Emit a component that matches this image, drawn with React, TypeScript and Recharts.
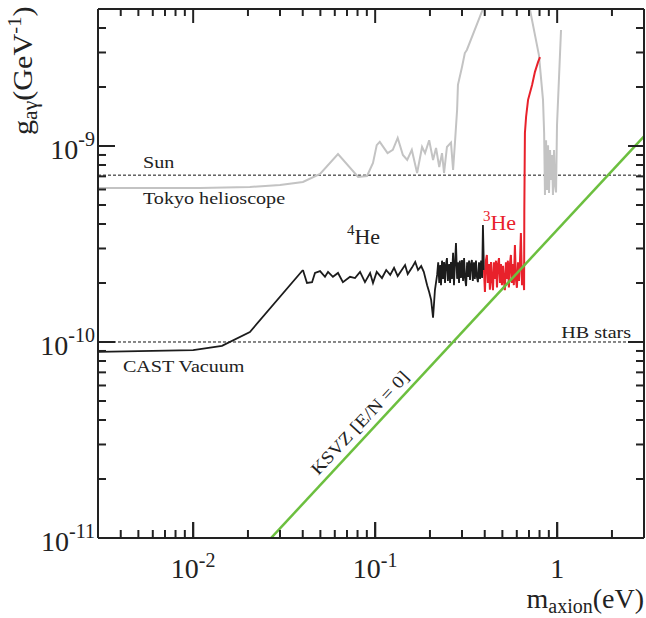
import React from 'react';
import { ComposedChart, Line, Scatter, XAxis, YAxis, ReferenceLine, ReferenceDot } from 'recharts';

const AXIS_COLOR = '#222222';
const FONT = '"Liberation Serif", "Times New Roman", Times, serif';

// ---- data (m_axion in eV, g_agamma in GeV^-1) ----
const castVacuumMass = [0.003, 0.01, 0.0144, 0.0205, 0.0401];
const castVacuumG = [8.9e-11, 9.1e-11, 9.55e-11, 1.125e-10, 2.33e-10];

const he4Mass = [0.0401, 0.0422, 0.045, 0.0467, 0.0498, 0.053, 0.0551, 0.0586, 0.0625, 0.0665, 0.0728, 0.0775, 0.0826, 0.0879, 0.0938, 0.0973, 0.102, 0.109, 0.115, 0.121, 0.127, 0.133, 0.14, 0.146, 0.151, 0.159, 0.166, 0.172, 0.179, 0.185, 0.193, 0.198, 0.203, 0.208, 0.213,
  0.219, 0.222, 0.225, 0.228, 0.23, 0.233, 0.236, 0.239, 0.242, 0.245, 0.248, 0.251, 0.255, 0.258, 0.261, 0.264, 0.268, 0.271, 0.275, 0.278, 0.282, 0.285, 0.289, 0.292, 0.296, 0.3, 0.304, 0.308, 0.312, 0.316, 0.32, 0.324, 0.328, 0.332, 0.336, 0.34, 0.344, 0.349, 0.353, 0.358, 0.362, 0.367, 0.372, 0.377, 0.382, 0.387, 0.391, 0.396];
const he4G = [2.33e-10, 2.0e-10, 2.02e-10, 2.25e-10, 2.3e-10, 2.15e-10, 2.28e-10, 2.15e-10, 2.25e-10, 2.02e-10, 2.15e-10, 2.12e-10, 2.28e-10, 2.02e-10, 2.25e-10, 2.0e-10, 2.28e-10, 2.12e-10, 2.33e-10, 2.2e-10, 2.39e-10, 2.17e-10, 2.33e-10, 2.47e-10, 2.22e-10, 2.39e-10, 2.56e-10, 2.33e-10, 2.44e-10, 2.28e-10, 1.95e-10, 1.8e-10, 1.64e-10, 1.33e-10, 1.84e-10,
  2.2e-10, 2.55e-10, 2.0e-10, 2.47e-10, 1.95e-10, 2.6e-10, 2.1e-10, 2.56e-10, 2.0e-10, 2.5e-10, 2.68e-10, 2.05e-10, 2.5e-10, 2.0e-10, 2.56e-10, 2.1e-10, 2.85e-10, 1.95e-10, 2.6e-10, 3.2e-10, 2.1e-10, 2.55e-10, 2.0e-10, 2.6e-10, 2.12e-10, 2.62e-10, 2.05e-10, 2.68e-10, 2.1e-10, 1.93e-10, 2.55e-10, 2.15e-10, 2.6e-10, 2.07e-10, 2.5e-10, 2.62e-10, 2.05e-10, 2.55e-10, 2.1e-10, 2.6e-10, 2.15e-10, 2.02e-10, 2.55e-10, 2.1e-10, 2.6e-10, 2.12e-10, 3.95e-10, 2.33e-10];

const he3Mass = [0.396, 0.401, 0.406, 0.411, 0.416, 0.422, 0.427, 0.433, 0.438, 0.444, 0.449, 0.455, 0.461, 0.467, 0.473, 0.479, 0.485, 0.491, 0.497, 0.504, 0.51, 0.516, 0.523, 0.53, 0.536, 0.543, 0.55, 0.557, 0.564, 0.571, 0.578, 0.586, 0.593, 0.601, 0.609, 0.617, 0.624, 0.632, 0.641, 0.648, 0.658,
  0.66, 0.665, 0.675, 0.692, 0.728, 0.755, 0.785, 0.805];
const he3G = [2.33e-10, 1.8e-10, 2.6e-10, 2.78e-10, 2.0e-10, 2.5e-10, 1.85e-10, 2.56e-10, 2.1e-10, 1.84e-10, 2.55e-10, 2.1e-10, 2.6e-10, 1.9e-10, 2.5e-10, 2.68e-10, 2.0e-10, 2.5e-10, 1.95e-10, 2.45e-10, 2.05e-10, 1.84e-10, 2.55e-10, 2.1e-10, 2.6e-10, 1.9e-10, 2.5e-10, 2.78e-10, 2.0e-10, 2.5e-10, 1.95e-10, 3.12e-10, 2.1e-10, 1.89e-10, 2.55e-10, 2.05e-10, 2.5e-10, 3.6e-10, 1.95e-10, 2.45e-10, 1.84e-10,
  4.71e-10, 1.165e-9, 1.41e-9, 1.72e-9, 2.05e-9, 2.39e-9, 2.68e-9, 2.84e-9];

const tokyoLowMass = [0.003, 0.0109, 0.0205, 0.03, 0.0401, 0.0498, 0.0625, 0.0806, 0.0902, 0.0973, 0.102, 0.106, 0.117, 0.125, 0.133, 0.142, 0.15, 0.159, 0.17, 0.181, 0.188, 0.198, 0.208, 0.216, 0.225, 0.233, 0.239, 0.248, 0.261, 0.268, 0.275, 0.282, 0.285, 0.3, 0.311, 0.319, 0.41];
const tokyoLowG = [6.1e-10, 6.1e-10, 6.18e-10, 6.32e-10, 6.55e-10, 7.2e-10, 9.1e-10, 6.95e-10, 7.03e-10, 8.2e-10, 1.01e-9, 1.05e-9, 9.2e-10, 9.55e-10, 1.1e-9, 9.0e-10, 8.49e-10, 9.55e-10, 7.28e-10, 9.89e-10, 9.2e-10, 1.07e-9, 8.49e-10, 9.77e-10, 7.81e-10, 9.2e-10, 7.28e-10, 9.89e-10, 1.04e-9, 7.54e-10, 1.07e-9, 1.53e-9, 2.05e-9, 2.53e-9, 2.98e-9, 3.09e-9, 5.6e-9];

const tokyoHighMass = [0.692, 0.794, 0.836, 0.848, 0.857, 0.869, 0.879, 0.891, 0.902, 0.914, 0.925, 0.937, 0.948, 0.961, 0.973, 0.986, 0.998, 1.05];
const tokyoHighG = [5.56e-9, 2.91e-9, 1.72e-9, 1.165e-9, 5.62e-10, 1.07e-9, 5.97e-10, 1.01e-9, 5.76e-10, 9.55e-10, 6.71e-10, 9.0e-10, 5.62e-10, 9.55e-10, 6.32e-10, 5.8e-10, 1.28e-9, 3.91e-9];

const ksvzMass = [0.01, 3];
const ksvzG = [3.73e-12, 1.12e-9];

const sunLimit = 7.1e-10;
const hbLimit = 1.0e-10;

const xDomain = [0.003, 3];
const yDomain = [1e-11, 5e-9];
const xMajorTicks = [0.01, 0.1, 1];
const xAllTicks = [0.004, 0.005, 0.006, 0.007, 0.008, 0.009, 0.01, 0.02, 0.03, 0.04, 0.05, 0.06, 0.07, 0.08, 0.09, 0.1, 0.2, 0.3, 0.4, 0.5, 0.6, 0.7, 0.8, 0.9, 1, 2];
const yMajorTicks = [1e-11, 1e-10, 1e-9];
const yAllTicks = [2e-11, 3e-11, 4e-11, 5e-11, 6e-11, 7e-11, 8e-11, 9e-11, 1e-10, 2e-10, 3e-10, 4e-10, 5e-10, 6e-10, 7e-10, 8e-10, 9e-10, 1e-9, 2e-9, 3e-9, 4e-9];

const zip = (m: number[], g: number[]) => m.map((v, i) => ({ m: v, g: g[i] }));
const castVacuumData = zip(castVacuumMass, castVacuumG);
const he4Data = zip(he4Mass, he4G);
const he3Data = zip(he3Mass, he3G);
const tokyoLowData = zip(tokyoLowMass, tokyoLowG);
const tokyoHighData = zip(tokyoHighMass, tokyoHighG);
const ksvzData = zip(ksvzMass, ksvzG);

// tick-mark anchor points on the four frame edges
const bottomTickPts = xAllTicks.map((v) => ({ m: v, g: yDomain[0] }));
const topTickPts = xAllTicks.map((v) => ({ m: v, g: yDomain[1] }));
const leftTickPts = yAllTicks.map((v) => ({ m: xDomain[0], g: v }));
const rightTickPts = yAllTicks.map((v) => ({ m: xDomain[1], g: v }));

const exponentOf = (v: number) => Math.round(Math.log10(v));
const isMajor = (v: number) => Math.abs(v / Math.pow(10, exponentOf(v)) - 1) < 1e-6;

const BOTTOM_MAJOR = 16;
const LEFT_MAJOR = 17;

const tickMark = (d: string) => <path d={d} stroke={AXIS_COLOR} strokeWidth={2} fill="none" />;
const BottomMark = (p: any) => tickMark(`M${p.cx},${p.cy}V${p.cy - (isMajor(p.payload.m) ? BOTTOM_MAJOR : 8)}`);
const TopMark = (p: any) => tickMark(`M${p.cx},${p.cy}V${p.cy + (isMajor(p.payload.m) ? 14 : 7)}`);
const LeftMark = (p: any) => tickMark(`M${p.cx},${p.cy}H${p.cx + (isMajor(p.payload.g) ? LEFT_MAJOR : 8)}`);
const RightMark = (p: any) => tickMark(`M${p.cx},${p.cy}H${p.cx - (isMajor(p.payload.g) ? 16 : 8)}`);

const EmptyTick = () => <g />;

const BottomTickLabel = (p: any) => {
  const e = exponentOf(p.payload.value);
  return (
    <text x={p.x} y={p.y + BOTTOM_MAJOR + 40} textAnchor="middle" fontFamily={FONT} fontSize={28} fill="#222">
      {e === 0 ? (
        <tspan>1</tspan>
      ) : (
        <>
          <tspan>10</tspan>
          <tspan fontSize={20} dy={-11}>{String(e)}</tspan>
        </>
      )}
    </text>
  );
};

const LeftTickLabel = (p: any) => {
  const e = exponentOf(p.payload.value);
  return (
    <text x={p.x - LEFT_MAJOR - 3} y={p.y + 13} textAnchor="end" fontFamily={FONT} fontSize={28} fill="#222">
      <tspan>10</tspan>
      <tspan fontSize={20} dy={-13}>{String(e)}</tspan>
    </text>
  );
};

const XTitle = (props: any) => {
  const vb = props.viewBox;
  return (
    <text x={vb.x + vb.width} y={vb.y + 70} textAnchor="end" fontFamily={FONT} fontSize={28} fill="#222">
      <tspan>m</tspan>
      <tspan fontSize={20} dy={5}>axion</tspan>
      <tspan dy={-5}>(eV)</tspan>
    </text>
  );
};

const YTitle = (props: any) => {
  const vb = props.viewBox;
  const x = vb.x - 66;
  const y = vb.y + 126;
  return (
    <text transform={`translate(${x},${y}) rotate(-90) scale(1.08,1)`} x={0} y={0} fontFamily={FONT} fontSize={28} fill="#222">
      <tspan>g</tspan>
      <tspan fontSize={20} dy={5}>aγ</tspan>
      <tspan dy={-5}>(GeV</tspan>
      <tspan fontSize={19} dy={-11}>-1</tspan>
      <tspan dy={11}>)</tspan>
    </text>
  );
};

const plainLabel = (txt: string, anchor: 'start' | 'end', size = 17.5, color = '#222', angle = 0) => (p: any) => (
  <text
    transform={`translate(${p.cx},${p.cy}) rotate(${angle}) scale(1.15,1)`}
    x={0}
    y={0}
    textAnchor={anchor}
    fontFamily={FONT}
    fontSize={size}
    fill={color}
  >
    {txt}
  </text>
);

const isotopeLabel = (num: string, color: string) => (p: any) => (
  <text x={p.cx} y={p.cy} fontFamily={FONT} fontSize={22} fill={color}>
    <tspan fontSize={15} dy={-9}>{num}</tspan>
    <tspan dy={9}>He</tspan>
  </text>
);

const TINY = 0.01;
const tickLineStyle = { stroke: AXIS_COLOR, strokeWidth: 2 };
const axisLineStyle = { stroke: AXIS_COLOR, strokeWidth: 2 };
const xCommon = { type: 'number' as const, scale: 'log' as const, domain: xDomain, allowDataOverflow: true, interval: 0 as const, mirror: true, height: TINY, tickMargin: 0, stroke: AXIS_COLOR, tickLine: tickLineStyle };
const yCommon = { type: 'number' as const, scale: 'log' as const, domain: yDomain, allowDataOverflow: true, interval: 0 as const, mirror: true, width: TINY, tickMargin: 0, stroke: AXIS_COLOR, tickLine: tickLineStyle };

const ids = { xAxisId: 'b', yAxisId: 'l' };

export default function App() {
  return (
    <div style={{ position: 'absolute', left: 0, top: 0, width: 646, height: 618, background: '#fff' }}>
      <ComposedChart width={646} height={618} margin={{ top: 9, right: 2, bottom: 80, left: 98 }}>
        <XAxis xAxisId="b" dataKey="m" orientation="bottom" {...xCommon} ticks={xMajorTicks} tickSize={BOTTOM_MAJOR} axisLine={axisLineStyle} tick={(p: any) => <BottomTickLabel {...p} />} label={{ content: XTitle }} />
        <XAxis xAxisId="t" orientation="top" {...xCommon} ticks={xMajorTicks} tickSize={14} axisLine={axisLineStyle} tick={EmptyTick} />
        <YAxis yAxisId="l" dataKey="g" orientation="left" {...yCommon} ticks={yMajorTicks} tickSize={LEFT_MAJOR} axisLine={axisLineStyle} tick={(p: any) => <LeftTickLabel {...p} />} label={{ content: YTitle }} />
        <YAxis yAxisId="r" orientation="right" {...yCommon} ticks={yMajorTicks.slice(1)} tickSize={16} axisLine={axisLineStyle} tick={EmptyTick} />

        <ReferenceLine {...ids} y={sunLimit} stroke="#111" strokeWidth={1} strokeDasharray="3 2" />
        <ReferenceLine {...ids} y={hbLimit} stroke="#111" strokeWidth={1} strokeDasharray="3 2" />

        {/* inward tick marks (major + minor) on all four frame edges */}
        <Scatter {...ids} data={bottomTickPts} dataKey="g" shape={BottomMark} isAnimationActive={false} />
        <Scatter {...ids} data={topTickPts} dataKey="g" shape={TopMark} isAnimationActive={false} />
        <Scatter {...ids} data={leftTickPts} dataKey="g" shape={LeftMark} isAnimationActive={false} />
        <Scatter {...ids} data={rightTickPts} dataKey="g" shape={RightMark} isAnimationActive={false} />

        <Line {...ids} data={tokyoLowData} dataKey="g" type="linear" stroke="#c3c3c3" strokeWidth={2} dot={false} activeDot={false} isAnimationActive={false} />
        <Line {...ids} data={tokyoHighData} dataKey="g" type="linear" stroke="#c3c3c3" strokeWidth={2} dot={false} activeDot={false} isAnimationActive={false} />
        <Line {...ids} data={castVacuumData} dataKey="g" type="linear" stroke="#1c1c1c" strokeWidth={1.8} dot={false} activeDot={false} isAnimationActive={false} />
        <Line {...ids} data={he4Data} dataKey="g" type="linear" stroke="#1c1c1c" strokeWidth={1.8} dot={false} activeDot={false} isAnimationActive={false} />
        <Line {...ids} data={he3Data} dataKey="g" type="linear" stroke="#e8212b" strokeWidth={2} dot={false} activeDot={false} isAnimationActive={false} />
        <Line {...ids} data={ksvzData} dataKey="g" type="linear" stroke="#6cbf3f" strokeWidth={2.5} dot={false} activeDot={false} isAnimationActive={false} />

        <ReferenceDot {...ids} x={0.0053} y={7.72e-10} r={0} shape={plainLabel('Sun', 'start')} />
        <ReferenceDot {...ids} x={0.0053} y={5.06e-10} r={0} shape={plainLabel('Tokyo helioscope', 'start')} />
        <ReferenceDot {...ids} x={0.00411} y={7.03e-11} r={0} shape={plainLabel('CAST Vacuum', 'start')} />
        <ReferenceDot {...ids} x={2.55} y={1.048e-10} r={0} shape={plainLabel('HB stars', 'end')} />
        <ReferenceDot {...ids} x={0.0486} y={2.07e-11} r={0} shape={plainLabel('KSVZ [E/N = 0]', 'start', 17.5, '#222', -47)} />
        <ReferenceDot {...ids} x={0.07} y={3.16e-10} r={0} shape={isotopeLabel('4', '#222')} />
        <ReferenceDot {...ids} x={0.391} y={3.73e-10} r={0} shape={isotopeLabel('3', '#e8212b')} />
      </ComposedChart>
    </div>
  );
}
